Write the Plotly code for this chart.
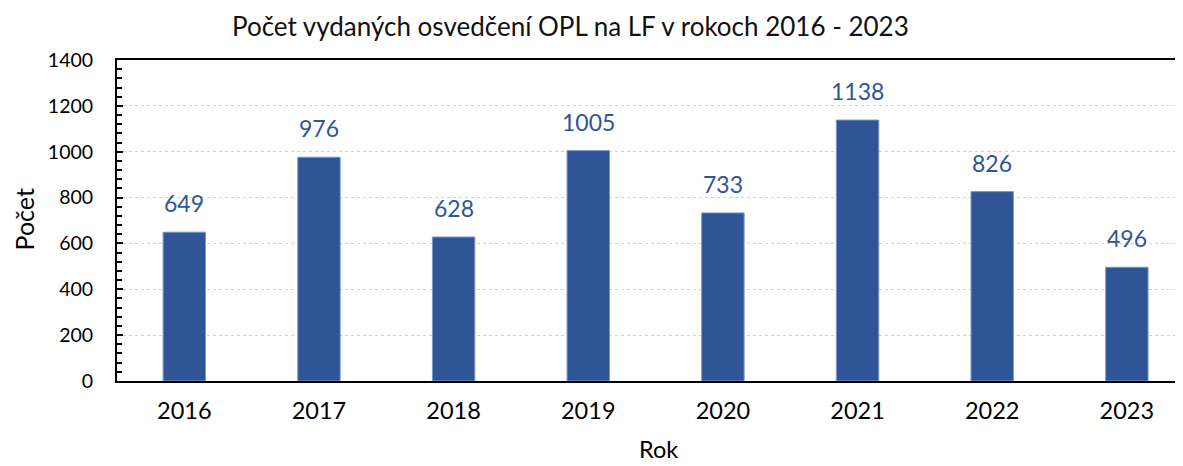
import plotly.graph_objects as go

years = ["2016", "2017", "2018", "2019", "2020", "2021", "2022", "2023"]
counts = [649, 976, 628, 1005, 733, 1138, 826, 496]

title_text = "Počet vydaných osvedčení OPL na LF v rokoch 2016 - 2023"
x_title = "Rok"
y_title = "Počet"

FONT = "Lato"
BLUE = "#2F5597"

# page is shown with an 8px body margin, so the figure is sized to fill the
# remaining viewport exactly
W, H = 1175, 458
L, T = 108.6, 51.5
PH = 322.0
B = H - T - PH
PW = W - L

fig = go.Figure()
fig.add_trace(go.Bar(
    x=list(range(len(years))), y=counts,
    width=0.315,
    marker=dict(color=BLUE, line=dict(color="#7b96c8", width=1)),
    hoverinfo="x+y",
))

for i, v in enumerate(counts):
    fig.add_annotation(x=i, y=v, text=str(v), showarrow=False,
                       yanchor="bottom", yshift=13,
                       font=dict(family=FONT, size=23, color=BLUE))

# chart title
fig.add_annotation(x=(562 - L) / PW, xref="paper", y=1 + (T - 17) / PH, yref="paper",
                   text=title_text, showarrow=False, xanchor="center", yanchor="middle",
                   font=dict(family=FONT, size=26, color="#111"))
fig.add_annotation(x=3.52, xref="x", y=-B / PH, yref="paper", text=x_title,
                   showarrow=False, yanchor="bottom",
                   font=dict(family=FONT, size=23.5, color="#000"))
fig.add_annotation(x=-(L - 16) / PW, xref="paper", y=1 - (211 - T) / PH, yref="paper", text=y_title,
                   showarrow=False, textangle=-90, xanchor="center", yanchor="middle",
                   font=dict(family=FONT, size=25, color="#000"))

fig.update_layout(
    width=W, height=H,
    margin=dict(l=L, r=0, t=T, b=B, pad=0, autoexpand=False),
    paper_bgcolor="white", plot_bgcolor="white",
    showlegend=False,
    xaxis=dict(
        range=[-0.5, 7.417], automargin=False,
        tickmode="array", tickvals=list(range(len(years))), ticktext=years,
        showgrid=False, ticks="", zeroline=False,
        showline=True, linecolor="#000", linewidth=2, mirror=True,
        tickfont=dict(family=FONT, size=23.5, color="#000"),
        ticklabelstandoff=8,
    ),
    yaxis=dict(
        range=[0, 1400], dtick=200, tick0=0, automargin=False,
        showgrid=True, gridcolor="#d0d0d0", griddash="dot", gridwidth=1,
        zeroline=False,
        showline=True, linecolor="#000", linewidth=2,
        ticks="inside", ticklen=6, tickwidth=2, tickcolor="#000",
        minor=dict(dtick=40, ticks="inside", ticklen=5, tickwidth=1.5, tickcolor="#000", showgrid=False),
        tickfont=dict(family=FONT, size=19.5, color="#000"),
        ticklabelstandoff=18,
    ),
)

fig.write_html("out.html")
